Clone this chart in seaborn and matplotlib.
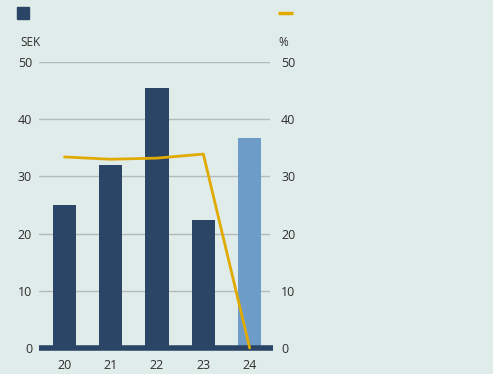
import matplotlib
matplotlib.use("Agg")
import matplotlib.pyplot as plt
import seaborn as sns
import pandas as pd

# Data
years = ["20", "21", "22", "23", "24"]
sek_values = [25.0, 32.0, 45.5, 22.4, 36.7]
pct_values = [33.4, 33.0, 33.2, 33.9, 0.0]
bar_colors = ["#2b4566", "#2b4566", "#2b4566", "#2b4566", "#6d9cc9"]

bg = "#e0ecea"
navy = "#2b4566"
gold = "#e0aa00"
grid_c = "#b4bab9"
text_c = "#2e2e2e"

sns.set_theme(style="white")
plt.rcParams["font.family"] = ["Open Sans", "DejaVu Sans"]

df = pd.DataFrame({"year": years, "sek": sek_values, "pct": pct_values})

fig = plt.figure(figsize=(4.93, 3.74), dpi=100, facecolor=bg)
ax = fig.add_axes([0.0791, 0.0695, 0.4686, 0.7647])
ax.set_facecolor(bg)

sns.barplot(data=df, x="year", y="sek", hue="year", palette=bar_colors,
            width=0.5, legend=False, ax=ax, saturation=1, zorder=3,
            edgecolor="none", linewidth=0)

ax.set_ylim(0, 50)
ax.set_yticks(range(0, 51, 10))
for v in range(10, 51, 10):
    ax.axhline(v, color=grid_c, lw=1.0, zorder=1)
base = ax.axhline(0, color=navy, lw=4, zorder=4, clip_on=False,
                  solid_capstyle="butt", xmax=1.013)

for s in ax.spines.values():
    s.set_visible(False)
ax.set_xlabel("")
ax.set_ylabel("")
ax.tick_params(axis="both", length=0, labelsize=9, colors=text_c)
ax.tick_params(axis="y", pad=5)
ax.tick_params(axis="x", pad=8)

ax2 = ax.twinx()
ax2.set_ylim(0, 50)
ax2.set_yticks(range(0, 51, 10))
sns.lineplot(x=list(range(len(years))), y=pct_values, color=gold, lw=2,
             ax=ax2, zorder=5, clip_on=False)
for s in ax2.spines.values():
    s.set_visible(False)
ax2.set_ylabel("")
ax2.tick_params(axis="y", length=0, labelsize=9, colors=text_c, pad=8)
ax.set_xlim(-0.55, 4.44)
ax2.set_xlim(-0.55, 4.44)

# Axis unit captions
fig.text(20 / 493, 1 - 42 / 374, "SEK", fontsize=8.5, color=text_c, va="center", ha="left")
fig.text(278 / 493, 1 - 42 / 374, "%", fontsize=8.5, color=text_c, va="center", ha="left")

# Legend keys
fig.patches.append(plt.Rectangle((17 / 493, 1 - 19 / 374), 12 / 493, 12 / 374,
                                 transform=fig.transFigure, color=navy, figure=fig))
fig.lines.append(plt.Line2D([278 / 493, 293 / 493], [1 - 12.5 / 374, 1 - 12.5 / 374],
                            transform=fig.transFigure, color=gold, lw=2.5, figure=fig,
                            solid_capstyle="butt"))

fig.savefig("out.png", dpi=100, facecolor=bg)
